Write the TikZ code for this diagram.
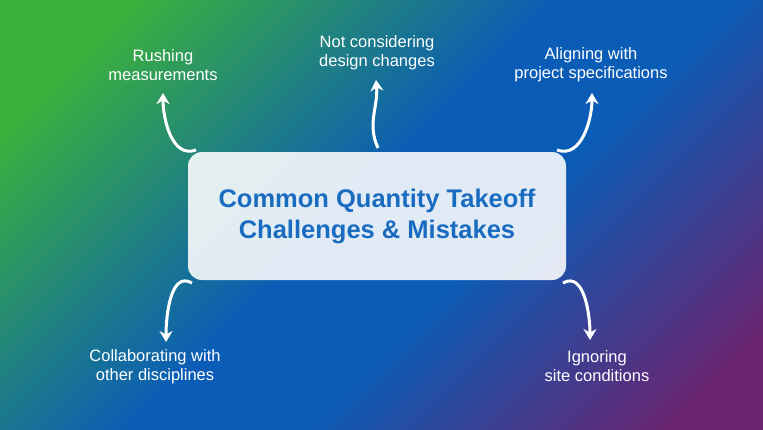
\documentclass[tikz,border=0pt]{standalone}
\usepackage{fontspec}
\setmainfont{Liberation Sans}
\usetikzlibrary{arrows.meta,shadings}
\definecolor{cgreen}{HTML}{3DB23A}
\definecolor{cblue}{HTML}{0A5CB6}
\definecolor{cpurple}{HTML}{6A2470}
\definecolor{ctitle}{HTML}{1A6CC0}
\pgfdeclarehorizontalshading{bgshade}{100bp}{color(0bp)=(cgreen); color(22bp)=(cgreen); color(48bp)=(cblue); color(58bp)=(cblue); color(80bp)=(cpurple); color(100bp)=(cpurple)}
\begin{document}
\begin{tikzpicture}[x=1pt,y=-1pt,
  lbl/.style={text=white,font=\fontsize{16.5}{19}\selectfont,align=center},
  arr/.style={white,line width=3pt,-{Stealth[length=11pt,width=13pt]}}]
\shade[shading=bgshade,shading angle=-45] (0,0) rectangle (763,429);
\useasboundingbox (0,0) rectangle (763,429);
\node[fill=white,fill opacity=0.88,rounded corners=14pt,minimum width=378pt,minimum height=128pt,
  text=ctitle,text opacity=1,font=\bfseries\fontsize{25.5}{31}\selectfont,align=center] (c) at (377,216)
  {Common Quantity Takeoff\\Challenges \& Mistakes};
\node[lbl] (l1) at (163,65) {Rushing\\measurements};
\node[lbl] (l2) at (377,53) {Not considering\\design changes};
\node[lbl] (l3) at (591,65) {Aligning with\\project specifications};
\node[lbl] (l4) at (155,367) {Collaborating with\\other disciplines};
\node[lbl] (l5) at (597,366) {Ignoring\\site conditions};
\coordinate (s1) at (196,150); \coordinate (e1) at (163,93);
\coordinate (s2) at (378,148); \coordinate (e2) at (376,80);
\coordinate (s3) at (557,150); \coordinate (e3) at (592,93);
\coordinate (s4) at (192,283); \coordinate (e4) at (166,342);
\coordinate (s5) at (563,283); \coordinate (e5) at (590,340);
\draw[arr] (s1) to[out=200,in=-90] (e1);
\draw[arr] (s2) to[out=115,in=-85] (e2);
\draw[arr] (s3) to[out=-20,in=-90] (e3);
\draw[arr] (s4) to[out=150,in=90] (e4);
\draw[arr] (s5) to[out=30,in=90] (e5);
\end{tikzpicture}
\end{document}
